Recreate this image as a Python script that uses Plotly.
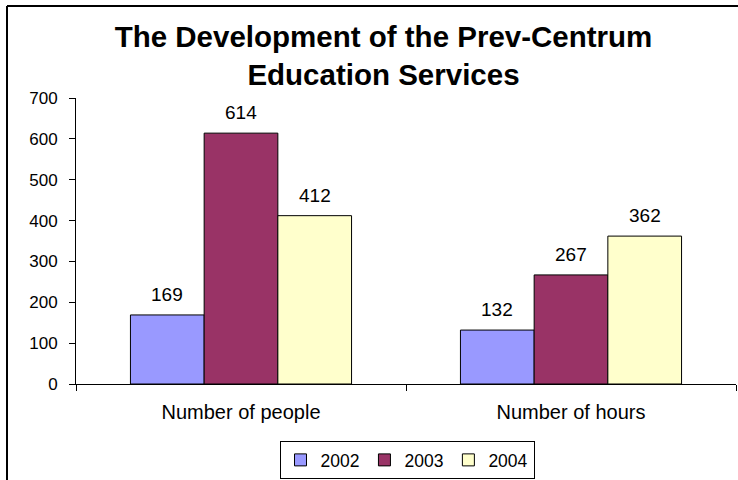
import plotly.graph_objects as go

categories = ["Number of people", "Number of hours"]
years = ["2002", "2003", "2004"]
values_2002 = [169, 132]
values_2003 = [614, 267]
values_2004 = [412, 362]
colors = ["#9999FF", "#993366", "#FFFFCC"]
y_ticks = [0, 100, 200, 300, 400, 500, 600, 700]

W, H = 738, 480
L, R, T, B = 76, 2, 98, 96
pw, ph = W - L - R, H - T - B
BARGAP = 0.33
FONT = "Liberation Sans, Arial, Helvetica, sans-serif"

series = [values_2002, values_2003, values_2004]

fig = go.Figure()
for name, vals, col in zip(years, series, colors):
    fig.add_trace(go.Bar(
        x=categories, y=vals, name=name,
        marker=dict(color=col, line=dict(color="#000000", width=1)),
        cliponaxis=False,
    ))

# value labels above bars (annotations in data coordinates)
bar_px = (pw / len(categories)) * (1 - BARGAP) / len(series)
annotations = []
for i, vals in enumerate(series):
    for cat, v in zip(categories, vals):
        annotations.append(dict(
            x=cat, y=v, xref="x", yref="y", text=str(v), showarrow=False,
            xshift=(i - 1) * bar_px, yshift=8, yanchor="bottom",
            font=dict(family=FONT, size=19, color="#000000"),
        ))

def px_x(p):
    return (p - L) / pw

def px_y(p):
    return (H - B - p) / ph

fig.update_layout(
    width=W, height=H, autosize=False,
    margin=dict(l=L, r=R, t=T, b=B, autoexpand=False),
    paper_bgcolor="white", plot_bgcolor="white",
    barmode="group", bargap=BARGAP, bargroupgap=0,
    font=dict(family=FONT, size=18, color="#000000"),
    title=dict(
        text="<b>The Development of the Prev-Centrum<br>Education Services</b>",
        x=383.5 / W, xanchor="center", xref="container",
        y=1 - 47 / H, yanchor="middle", yref="container",
        font=dict(family=FONT, size=29.5, color="#000000"),
    ),
    xaxis=dict(
        showline=True, linecolor="#000000", linewidth=1,
        ticks="outside", tickson="boundaries", ticklen=6, tickcolor="#000000",
        showgrid=False, tickfont=dict(size=20), ticklabelstandoff=10,
    ),
    yaxis=dict(
        range=[0, 700], tickvals=y_ticks,
        showline=True, linecolor="#000000", linewidth=1,
        ticks="outside", ticklen=6, tickcolor="#000000",
        showgrid=False, zeroline=False, tickfont=dict(size=17),
        ticklabelstandoff=8,
    ),
    legend=dict(
        orientation="h", x=px_x(407), xanchor="center",
        y=px_y(479), yanchor="bottom",
        bordercolor="#000000", borderwidth=1,
        font=dict(size=17.5), traceorder="normal",
        itemwidth=30,
    ),
    annotations=annotations,
    shapes=[
        dict(type="line", xref="paper", yref="paper",
             x0=px_x(7), x1=px_x(7), y0=px_y(6), y1=px_y(482),
             line=dict(color="#000000", width=2)),
        dict(type="line", xref="paper", yref="paper",
             x0=px_x(7), x1=px_x(740), y0=px_y(6), y1=px_y(6),
             line=dict(color="#000000", width=2)),
    ],
)

fig.write_html(
    "out.html",
    config={"responsive": False, "displayModeBar": False},
    post_script="document.body.style.margin='0px';document.body.style.overflow='hidden';",
)
